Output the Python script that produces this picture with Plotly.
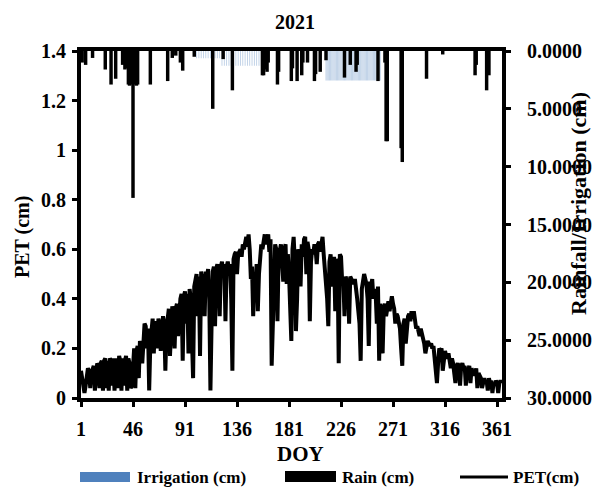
import plotly.graph_objects as go

# ---------------- data ----------------
days = list(range(1, 366))
pet_cm = [
    0.11, 0.08, 0.03, 0.02, 0.05, 0.09, 0.12, 0.11, 0.04, 0.10,
    0.12, 0.13, 0.03, 0.12, 0.14, 0.13, 0.04, 0.14, 0.15, 0.03,
    0.15, 0.16, 0.04, 0.15, 0.03, 0.16, 0.15, 0.05, 0.16, 0.03,
    0.14, 0.16, 0.04, 0.17, 0.15, 0.03, 0.16, 0.05, 0.15, 0.17,
    0.03, 0.16, 0.14, 0.04, 0.05, 0.13, 0.20, 0.04, 0.19, 0.21,
    0.08, 0.23, 0.21, 0.14, 0.27, 0.30, 0.29, 0.20, 0.28, 0.03,
    0.22, 0.30, 0.32, 0.18, 0.31, 0.29, 0.20, 0.32, 0.30, 0.19,
    0.31, 0.33, 0.30, 0.11, 0.28, 0.35, 0.36, 0.17, 0.34, 0.37,
    0.33, 0.20, 0.36, 0.38, 0.25, 0.37, 0.40, 0.42, 0.15, 0.41,
    0.43, 0.30, 0.42, 0.18, 0.44, 0.40, 0.20, 0.08, 0.45, 0.47,
    0.50, 0.33, 0.49, 0.17, 0.51, 0.48, 0.50, 0.33, 0.51, 0.49,
    0.52, 0.40, 0.03, 0.30, 0.51, 0.53, 0.29, 0.52, 0.54, 0.50,
    0.33, 0.53, 0.55, 0.50, 0.54, 0.31, 0.53, 0.55, 0.52, 0.54,
    0.40, 0.11, 0.56, 0.58, 0.59, 0.50, 0.58, 0.59, 0.60, 0.57,
    0.62, 0.60, 0.64, 0.65, 0.61, 0.66, 0.60, 0.48, 0.53, 0.33,
    0.50, 0.46, 0.54, 0.35, 0.50, 0.58, 0.62, 0.60, 0.64, 0.66,
    0.62, 0.65, 0.66, 0.59, 0.64, 0.13, 0.30, 0.58, 0.62, 0.60,
    0.31, 0.57, 0.60, 0.62, 0.55, 0.47, 0.60, 0.62, 0.46, 0.58,
    0.50, 0.35, 0.23, 0.60, 0.65, 0.55, 0.27, 0.40, 0.60, 0.58,
    0.45, 0.62, 0.57, 0.64, 0.65, 0.50, 0.63, 0.60, 0.31, 0.55,
    0.60, 0.58, 0.62, 0.60, 0.54, 0.62, 0.63, 0.59, 0.64, 0.65,
    0.58, 0.52, 0.48, 0.40, 0.29, 0.55, 0.58, 0.45, 0.50, 0.57,
    0.35, 0.56, 0.55, 0.14, 0.58, 0.57, 0.47, 0.48, 0.33, 0.49,
    0.47, 0.48, 0.30, 0.49, 0.48, 0.47, 0.46, 0.48, 0.45, 0.40,
    0.35, 0.30, 0.15, 0.44, 0.47, 0.50, 0.48, 0.46, 0.40, 0.21,
    0.47, 0.45, 0.48, 0.40, 0.44, 0.42, 0.30, 0.45, 0.15, 0.38,
    0.35, 0.18, 0.36, 0.38, 0.33, 0.37, 0.39, 0.35, 0.40, 0.41,
    0.38, 0.36, 0.30, 0.34, 0.33, 0.31, 0.28, 0.20, 0.13, 0.30,
    0.32, 0.22, 0.30, 0.33, 0.34, 0.31, 0.35, 0.32, 0.35, 0.30,
    0.28, 0.29, 0.27, 0.25, 0.28, 0.26, 0.24, 0.22, 0.18, 0.21,
    0.23, 0.22, 0.21, 0.22, 0.20, 0.21, 0.17, 0.12, 0.06, 0.14,
    0.20, 0.19, 0.20, 0.11, 0.18, 0.19, 0.17, 0.16, 0.18, 0.15,
    0.12, 0.16, 0.14, 0.10, 0.06, 0.13, 0.14, 0.12, 0.05, 0.13,
    0.14, 0.12, 0.13, 0.05, 0.12, 0.11, 0.13, 0.06, 0.12, 0.10,
    0.11, 0.09, 0.12, 0.04, 0.10, 0.09, 0.08, 0.04, 0.07, 0.08,
    0.06, 0.07, 0.03, 0.08, 0.06, 0.07, 0.02, 0.06, 0.05, 0.07,
    0.06, 0.02, 0.06, 0.07, 0.06,
]

rain_day = [2, 5, 11, 22, 27, 31, 37, 39, 41, 42, 43, 44, 45, 46, 48, 49, 50,
            61, 76, 80, 83, 87, 89, 99, 115, 124, 132,
            158, 159, 160, 161, 162, 163, 171, 172, 183, 184, 188, 192, 193, 197,
            203, 204, 208, 213, 229, 234, 239, 240, 258, 264, 265, 266,
            278, 279, 300, 314, 342, 343, 352, 354]
rain_cm = [1.0, 1.2, 0.6, 1.6, 2.9, 2.4, 1.2, 1.6, 1.5, 2.9, 3.0, 2.9, 2.2, 12.7, 2.9, 3.0, 2.9,
           2.9, 2.6, 0.6, 0.4, 1.0, 1.7, 0.5, 5.0, 0.7, 3.4,
           2.1, 2.1, 1.6, 1.2, 1.8, 1.0, 2.9, 1.8, 2.6, 1.5, 2.6, 2.1, 1.0, 1.0,
           2.6, 2.0, 1.8, 0.8, 2.3, 1.2, 1.8, 1.2, 2.6, 1.0, 7.8, 7.8,
           8.4, 9.6, 2.4, 0.3, 2.1, 1.2, 3.4, 2.1]

irr_day = [101, 103, 105, 107, 109, 111, 113, 115, 117, 119, 121,
           123, 125, 127, 129, 131, 133, 135, 137, 139, 141, 143, 145, 147, 149, 151, 153, 155, 157,
           213, 214, 215, 216, 217, 218, 219, 220, 221, 222, 223, 224, 225, 226, 227, 228,
           229, 230, 231, 232, 233, 234, 235, 236, 237, 238, 239, 240, 241, 242, 243, 244,
           245, 246, 247, 248, 249, 250, 251, 252, 253, 254, 255, 256, 257, 258, 259, 260]
irr_cm = [0.635, 0.635, 0.635, 0.635, 0.635, 0.635, 0.635, 0.635, 0.635, 0.635, 0.635,
          1.27, 1.27, 1.27, 1.27, 1.27, 1.27, 1.27, 1.27, 1.27, 1.27, 1.27, 1.27, 1.27, 1.27, 1.27, 1.27, 1.27, 1.27,
          2.54, 2.54, 2.54, 2.54, 2.54, 2.54, 2.54, 2.54, 2.54, 2.54, 2.54, 2.54, 2.54, 2.54, 2.54, 2.54,
          2.54, 2.54, 2.54, 2.54, 2.54, 2.54, 2.54, 2.54, 2.54, 2.54, 2.54, 2.54, 2.54, 2.54, 2.54, 2.54,
          2.54, 2.54, 2.54, 2.54, 2.54, 2.54, 2.54, 2.54, 2.54, 2.54, 2.54, 2.54, 2.54, 2.54, 2.54, 2.54]

x_ticks = [1, 46, 91, 136, 181, 226, 271, 316, 361]
pet_ticks = [0, 0.2, 0.4, 0.6, 0.8, 1, 1.2, 1.4]
rain_ticks = [0, 5, 10, 15, 20, 25, 30]

# ---------------- layout geometry (pixels) ----------------
W, H = 603, 491
L, R, T, B = 81, 502, 51, 398
FONT = "Liberation Serif"


def px(xp):
    return (xp - L) / (R - L)


def py(yp):
    return (B - yp) / (B - T)


fig = go.Figure()
fig.add_trace(go.Bar(x=irr_day, y=irr_cm, yaxis="y2", width=0.7, name="Irrigation (cm)",
                     marker=dict(color="rgba(79,129,189,0.42)", line=dict(width=0)),
                     showlegend=False))
fig.add_trace(go.Bar(x=rain_day, y=rain_cm, yaxis="y2", width=3.0, name="Rain (cm)",
                     marker=dict(color="black", line=dict(width=0)), showlegend=False))
fig.add_trace(go.Scatter(x=days, y=pet_cm, mode="lines", name="PET(cm)",
                         line=dict(color="black", width=4), showlegend=False))

bold = dict(family=FONT, color="black", weight="bold")

fig.update_layout(
    width=W, height=H,
    margin=dict(l=L, r=W - R, t=T, b=H - B, pad=0),
    paper_bgcolor="white", plot_bgcolor="white",
    barmode="overlay", bargap=0.1,
    font=dict(family=FONT, color="black"),
    xaxis=dict(range=[1, 365.3], tickmode="array", tickvals=x_ticks,
               ticks="outside", ticklen=5, tickwidth=3, tickcolor="black",
               showline=True, linewidth=4, linecolor="black", mirror=True,
               showgrid=False, zeroline=False, ticklabelstandoff=5,
               tickfont=dict(size=20, **bold)),
    yaxis=dict(range=[0, 1.4], tickmode="array", tickvals=pet_ticks,
               ticks="outside", ticklen=5, tickwidth=3, tickcolor="black",
               showline=True, linewidth=4, linecolor="black",
               showgrid=False, zeroline=False, ticklabelstandoff=2,
               tickfont=dict(size=20, **bold)),
    yaxis2=dict(range=[30, 0], overlaying="y", side="right", tickmode="array",
                tickvals=rain_ticks, tickformat=".4f",
                ticks="outside", ticklen=5, tickwidth=3, tickcolor="black",
                showline=True, linewidth=4, linecolor="black",
                showgrid=False, zeroline=False, ticklabelstandoff=12,
                tickfont=dict(size=20, **bold)),
)

annotations = [
    dict(text="2021", x=px(295), y=py(22), font=dict(size=20, **bold)),
    dict(text="DOY", x=px(300), y=py(454), font=dict(size=21, **bold)),
    dict(text="PET (cm)", x=px(22), y=py(237), textangle=-90, font=dict(size=20, **bold)),
    dict(text="Rainfall/Irrigation (cm)", x=px(578), y=py(204), textangle=-90,
         font=dict(size=22, **bold)),
    dict(text="Irrigation (cm)", x=px(135), y=py(477), xanchor="left", font=dict(size=17, **bold)),
    dict(text="Rain (cm)", x=px(340), y=py(477), xanchor="left", font=dict(size=17, **bold)),
    dict(text="PET(cm)", x=px(511), y=py(477), xanchor="left", font=dict(size=17, **bold)),
]
for a in annotations:
    a.setdefault("xanchor", "center")
    a.update(xref="paper", yref="paper", showarrow=False, yanchor="middle")
fig.update_layout(annotations=annotations)

fig.update_layout(shapes=[
    dict(type="rect", xref="paper", yref="paper", x0=px(80), x1=px(130), y0=py(482), y1=py(472),
         fillcolor="#4F81BD", line=dict(width=0)),
    dict(type="rect", xref="paper", yref="paper", x0=px(285), x1=px(336), y0=py(482), y1=py(471),
         fillcolor="black", line=dict(width=0)),
    dict(type="line", xref="paper", yref="paper", x0=px(460), x1=px(508), y0=py(477), y1=py(477),
         line=dict(color="black", width=3)),
])

fig.write_html("out.html")
